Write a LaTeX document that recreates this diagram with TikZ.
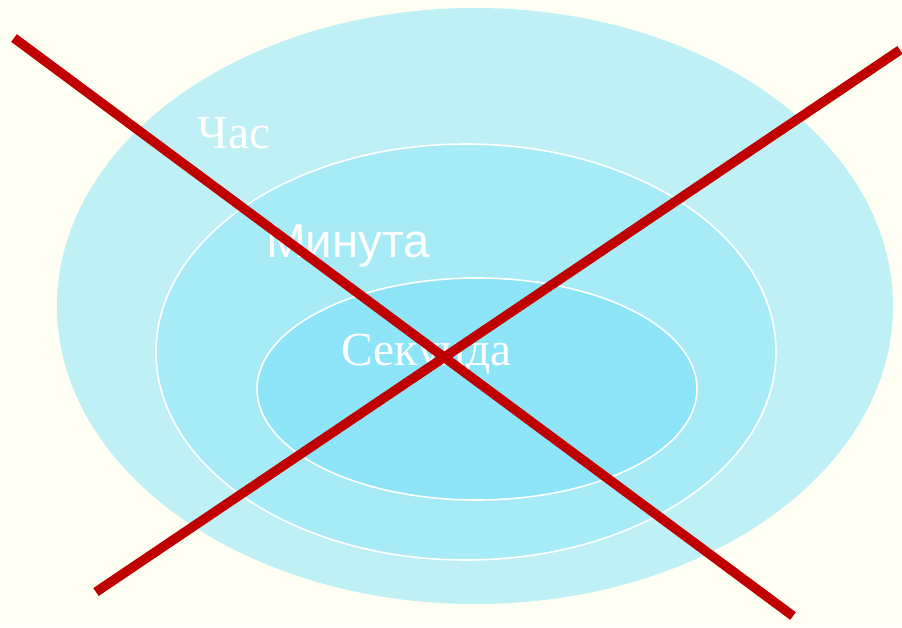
\documentclass[tikz,border=0pt]{standalone}
\usepackage{fontspec}
\setmainfont{Liberation Serif}
\newfontfamily\arialfont{Liberation Sans}
\definecolor{bgc}{RGB}{255,255,243}
\definecolor{outerc}{RGB}{190,240,245}
\definecolor{midc}{RGB}{166,235,246}
\definecolor{innerc}{RGB}{142,229,247}
\definecolor{crossc}{RGB}{192,0,0}
\begin{document}
\begin{tikzpicture}[x=1pt,y=-1pt,
  ring/.style={draw=white,line width=1.6pt},
  lbl/.style={text=white,inner sep=0pt,anchor=base west,font=\fontsize{47.5}{47.5}\selectfont},
  crossline/.style={draw=crossc,line width=9.5pt}]
\fill[bgc] (0,0) rectangle (902,627);
\useasboundingbox (0,0) rectangle (902,627);
\fill[outerc] (475,306) ellipse [x radius=418, y radius=298];
\fill[midc,ring] (466,352) ellipse [x radius=310, y radius=208];
\fill[innerc,ring] (477,389) ellipse [x radius=220, y radius=111];
\node[lbl] (hour) at (197,148) {Час};
\node[lbl,font=\arialfont\fontsize{47.5}{47.5}\selectfont] (minute) at (266,257) {Минута};
\node[lbl] (second) at (341,365) {Секунда};
\coordinate (a1) at (14,38);
\coordinate (a2) at (793,616);
\coordinate (b1) at (96,592);
\coordinate (b2) at (900,50);
\draw[crossline] (a1) -- (a2);
\draw[crossline] (b1) -- (b2);
\end{tikzpicture}
\end{document}
